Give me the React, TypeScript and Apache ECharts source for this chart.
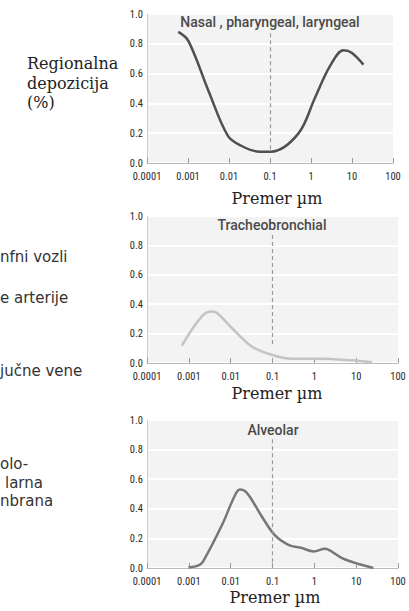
import React, { useEffect, useRef } from "react";
import * as echarts from "echarts";

// ---- data ----
const xTickLabels = ["0.0001", "0.001", "0.01", "0.1", "1", "10", "100"];
const yTickLabels = ["0.0", "0.2", "0.4", "0.6", "0.8", "1.0"];

const nasalX = [0.00058, 0.00102, 0.0032, 0.0095, 0.0204, 0.048, 0.105, 0.49, 1.26, 2.9, 6.2, 9.8, 19];
const nasalY = [0.88, 0.82, 0.48, 0.18, 0.114, 0.078, 0.076, 0.197, 0.44, 0.65, 0.756, 0.74, 0.66];

const tracheoX = [0.00068, 0.00204, 0.00355, 0.0047, 0.0107, 0.0316, 0.079, 0.29, 1.26, 7.9, 24];
const tracheoY = [0.118, 0.317, 0.35, 0.34, 0.238, 0.113, 0.063, 0.029, 0.029, 0.018, 0.005];

const alveolarX = [0.00098, 0.0017, 0.0022, 0.0062, 0.0126, 0.0166, 0.0219, 0.029, 0.055, 0.115, 0.24, 0.5, 0.95, 1.82, 2.4, 4.6, 11.5, 25.7];
const alveolarY = [0.004, 0.018, 0.045, 0.29, 0.49, 0.53, 0.52, 0.48, 0.35, 0.22, 0.157, 0.135, 0.112, 0.13, 0.117, 0.067, 0.027, 0.0];

const panelTitles = ["Nasal , pharyngeal, laryngeal", "Tracheobronchial", "Alveolar"];
const axisTitle = "Premer µm";
const yTitleLines = ["Regionalna", "depozicija", "(%)"];
const sideLabels2 = ["nfni vozli", "e arterije", "jučne vene"];
const sideLabels3 = ["olo-", "larna", "nbrana"];

const cutoffSize = 0.1;
const dashTop = [0.87, 0.87, 0.87];
const dashBottom = [0.076, 0.12, 0.0];

const seriesX = [nasalX, tracheoX, alveolarX];
const seriesY = [nasalY, tracheoY, alveolarY];
const lineColors = ["#505050", "#c4c4c4", "#777777"];

// ---- layout ----
const grids = [
  { left: 147, top: 14, width: 246, height: 149 },
  { left: 147, top: 216, width: 251, height: 147 },
  { left: 147, top: 420, width: 251, height: 148 },
];
const titlePos = [
  [270, 22],
  [272, 225],
  [273, 430],
];
const axisTitlePos = [
  [277, 198],
  [277, 393],
  [275, 597],
];

const tickFont = "'Liberation Sans Narrow', 'Roboto Condensed', Roboto, sans-serif";

export default function App() {
  const ref = useRef<HTMLDivElement>(null);

  useEffect(() => {
    if (!ref.current) return;
    const chart = echarts.init(ref.current, undefined, { renderer: "svg" });

    const xAxes = grids.map((_, i) => ({
      type: "log",
      logBase: 10,
      gridIndex: i,
      min: 0.0001,
      max: 100,
      splitNumber: 6,
      axisLine: { show: true, lineStyle: { color: "#bbbbbb", width: 1 } },
      axisTick: { show: true, inside: true, length: 5, lineStyle: { color: "#999999" } },
      splitLine: { show: false },
      axisLabel: {
        margin: 8,
        fontSize: 10.5,
        color: "#2a2a2a",
        fontFamily: tickFont,
        formatter: (v: number) => {
          const e = Math.round(Math.log10(v));
          return xTickLabels[e + 4] ?? "";
        },
      },
    }));

    const yAxes = grids.map((_, i) => ({
      type: "value",
      gridIndex: i,
      min: 0,
      max: 1,
      interval: 0.2,
      axisLine: { show: true, lineStyle: { color: "#cccccc", width: 1 } },
      axisTick: { show: false },
      splitLine: { show: true, lineStyle: { color: "#ffffff", width: 2 } },
      axisLabel: {
        margin: 4,
        fontSize: 10.5,
        color: "#2a2a2a",
        fontFamily: tickFont,
        formatter: (v: number) => yTickLabels[Math.round(v * 5)] ?? "",
      },
    }));

    const series = grids.map((_, i) => ({
      type: "line",
      xAxisIndex: i,
      yAxisIndex: i,
      data: seriesX[i].map((x, j) => [x, seriesY[i][j]]),
      showSymbol: false,
      smooth: 0.35,
      lineStyle: { color: lineColors[i], width: 2.5 },
      markLine: {
        silent: true,
        symbol: ["none", "none"],
        label: { show: false },
        lineStyle: { type: [4, 3], color: "#9a9a9a", width: 1.2 },
        data: [[{ coord: [cutoffSize, dashTop[i]] }, { coord: [cutoffSize, dashBottom[i]] }]],
      },
      z: 3,
    }));

    const graphics: any[] = [];
    panelTitles.forEach((t, i) => {
      graphics.push({
        type: "text",
        x: titlePos[i][0],
        y: titlePos[i][1],
        style: {
          text: t,
          fontSize: 14,
          fontFamily: "Roboto, sans-serif",
          fontWeight: 500,
          fill: "#4a4a4a",
          textAlign: "center",
          textVerticalAlign: "middle",
        },
        z: 10,
      });
      graphics.push({
        type: "text",
        x: axisTitlePos[i][0],
        y: axisTitlePos[i][1],
        style: {
          text: axisTitle,
          fontSize: 16,
          fontFamily: "'DejaVu Serif', serif",
          fill: "#222222",
          textAlign: "center",
          textVerticalAlign: "middle",
        },
      });
    });
    const yTitleY = [63, 83, 102];
    yTitleLines.forEach((t, i) => {
      graphics.push({
        type: "text",
        x: 27,
        y: yTitleY[i],
        style: {
          text: t,
          fontSize: 16,
          fontFamily: "'DejaVu Serif', serif",
          fill: "#222222",
          textAlign: "left",
          textVerticalAlign: "middle",
        },
      });
    });
    const side2Y = [257, 298, 371];
    sideLabels2.forEach((t, i) => {
      graphics.push({
        type: "text",
        x: 0,
        y: side2Y[i],
        style: {
          text: t,
          fontSize: 15,
          fontFamily: "'DejaVu Sans', sans-serif",
          fill: "#333333",
          textAlign: "left",
          textVerticalAlign: "middle",
        },
      });
    });
    const side3Y = [464, 483, 501];
    const side3X = [0, 5, 0];
    sideLabels3.forEach((t, i) => {
      graphics.push({
        type: "text",
        x: side3X[i],
        y: side3Y[i],
        style: {
          text: t,
          fontSize: 15,
          fontFamily: "'DejaVu Sans', sans-serif",
          fill: "#333333",
          textAlign: "left",
          textVerticalAlign: "middle",
        },
      });
    });

    chart.setOption({
      animation: false,
      backgroundColor: "#ffffff",
      grid: grids.map((g) => ({ ...g, show: true, backgroundColor: "#f3f3f3", borderWidth: 0, containLabel: false })),
      xAxis: xAxes,
      yAxis: yAxes,
      series,
      graphic: graphics,
    } as any);

    return () => chart.dispose();
  }, []);

  return (
    <div
      ref={ref}
      style={{ position: "fixed", left: 0, top: 0, width: 409, height: 611, background: "#fff" }}
    />
  );
}
